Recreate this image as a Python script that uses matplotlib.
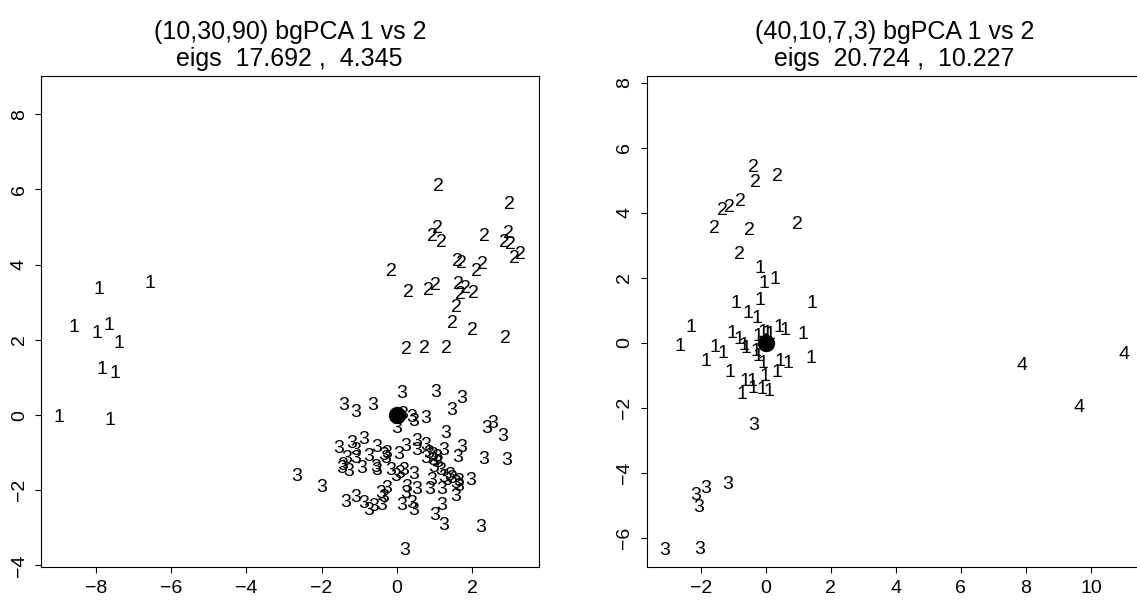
import numpy as np
import matplotlib.pyplot as plt
from matplotlib.ticker import MultipleLocator

plt.rcParams['font.family'] = ['Liberation Sans', 'DejaVu Sans']

# ---- left panel: (10,30,90) ----
titleA = "(10,30,90) bgPCA 1 vs 2\neigs  17.692 ,  4.345"
a1_x = [-7.93, -6.56, -8.58, -7.97, -7.66, -7.40, -7.84, -7.50, -8.97, -7.62]
a1_y = [3.39, 3.55, 2.39, 2.22, 2.44, 1.97, 1.26, 1.15, 0.00, -0.09]

a2_x = [1.10, 2.99, 1.07, 0.94, 1.20, 2.33, 2.97, 2.86, 3.02, 3.28,
        3.13, -0.13, 1.62, 1.73, 2.27, 2.13, 0.31, 0.85, 1.04, 1.64,
        1.84, 1.69, 2.03, 1.60, 1.47, 2.00, 2.90, 0.27, 0.73, 1.32]
a2_y = [6.14, 5.65, 5.02, 4.81, 4.63, 4.81, 4.89, 4.64, 4.59, 4.33,
        4.21, 3.88, 4.15, 4.08, 4.06, 3.86, 3.32, 3.37, 3.50, 3.53,
        3.41, 3.26, 3.28, 2.91, 2.48, 2.31, 2.08, 1.80, 1.82, 1.82]

a3_x = [0.14, 1.04, 1.73, 1.47, -1.41, -1.08, -0.63, 0.16, 0.40, 0.45,
        0.78, -0.01, 2.40, 2.56, 2.82, 1.31, -1.55, -1.19, -0.88, -1.10,
        -0.53, -0.26, -0.35, 0.05, 0.25, 0.54, 0.52, 0.76, 0.85, 0.96,
        1.07, 0.76, 1.26, 1.73, 1.63, 2.31, 2.93, -1.32, -1.43, -1.28,
        -1.46, -1.08, -0.75, -0.93, -0.57, -0.53, -0.17, -0.04, 0.07, 0.18,
        0.45, 0.98, 1.09, 1.16, 0.94, 1.24, 1.33, 1.47, 1.56, 1.66,
        1.64, 1.97, -1.99, -2.65, -0.44, -0.28, -0.35, -0.39, 0.27, 0.25,
        0.52, 0.87, 1.20, 1.58, -1.37, -1.08, -0.88, -0.75, -0.62, 0.14,
        0.40, 0.45, 1.02, 1.20, 1.24, 2.22, 0.20, 0.95, -0.30, 1.40]
a3_y = [0.62, 0.66, 0.49, 0.18, 0.31, 0.11, 0.31, 0.07, 0.00, -0.13,
        -0.03, -0.31, -0.31, -0.18, -0.51, -0.44, -0.84, -0.71, -0.60, -0.89,
        -0.81, -0.96, -1.02, -0.99, -0.78, -0.66, -0.89, -0.75, -0.97, -1.02,
        -1.08, -1.11, -0.89, -0.80, -1.08, -1.13, -1.15, -1.11, -1.28, -1.46,
        -1.37, -1.11, -1.05, -1.37, -1.33, -1.42, -1.42, -1.58, -1.51, -1.42,
        -1.52, -1.33, -1.22, -1.42, -1.68, -1.60, -1.68, -1.64, -1.77, -1.70,
        -1.84, -1.68, -1.86, -1.58, -2.04, -1.90, -2.13, -2.35, -1.86, -2.04,
        -1.93, -1.93, -1.93, -2.11, -2.26, -2.13, -2.30, -2.48, -2.39, -2.35,
        -2.30, -2.48, -2.61, -2.35, -2.88, -2.93, -3.55, -1.15, -1.10, -1.55]

# ---- right panel: (40,10,7,3) ----
titleB = "(40,10,7,3) bgPCA 1 vs 2\neigs  20.724 ,  10.227"
b1_x = [-0.17, 0.29, -0.05, -0.92, -0.17, 1.43, -0.56, -0.28, -2.30, -2.63,
        -1.04, -0.82, -0.67, -0.61, -0.10, 0.05, 0.13, 0.41, 0.58, 1.14,
        -0.23, -0.29, -0.23, -1.56, -1.33, -1.84, -0.07, 0.44, 0.68, 1.39,
        -1.10, 0.34, -0.02, -0.63, -0.43, -0.38, -0.12, 0.10, -0.74, 0.00]
b1_y = [2.33, 2.01, 1.87, 1.26, 1.36, 1.26, 0.95, 0.80, 0.54, -0.05,
        0.34, 0.17, -0.02, -0.12, 0.39, 0.34, 0.31, 0.54, 0.44, 0.32,
        0.24, -0.22, -0.35, -0.10, -0.28, -0.51, -0.58, -0.51, -0.58, -0.43,
        -0.86, -0.84, -0.99, -1.14, -1.12, -1.35, -1.37, -1.43, -1.53, 0.10]

b2_x = [-0.38, -0.33, 0.36, -0.77, -1.10, -1.33, -1.59, -0.51, 0.97, -0.82]
b2_y = [5.45, 4.99, 5.17, 4.40, 4.22, 4.12, 3.56, 3.51, 3.71, 2.76]

b3_x = [-0.36, -1.86, -1.18, -2.15, -2.07, -3.10, -2.02]
b3_y = [-2.47, -4.42, -4.29, -4.64, -5.01, -6.33, -6.31]

b4_x = [7.87, 11.02, 9.63]
b4_y = [-0.63, -0.31, -1.94]

panels = [
    (titleA, [("1", a1_x, a1_y), ("2", a2_x, a2_y), ("3", a3_x, a3_y)]),
    (titleB, [("1", b1_x, b1_y), ("2", b2_x, b2_y), ("3", b3_x, b3_y), ("4", b4_x, b4_y)]),
]

W, H = 1137, 601
# plot boxes in pixels: left, bottom edge (from top), width, top edge (from top)
boxes_px = [(41, 567, 497.5, 76), (646.5, 567, 496, 76)]


def limits(groups, wpx, hpx):
    # x: data range + 4% each side; y: starts 4% below ymin, same units/pixel as x
    xs = np.concatenate([np.asarray(g[1]) for g in groups])
    ys = np.concatenate([np.asarray(g[2]) for g in groups])
    w = xs.max() - xs.min()
    xl = (xs.min() - 0.04 * w, xs.max() + 0.04 * w)
    span = (xl[1] - xl[0]) * hpx / wpx
    y0 = ys.min() - 0.04 * w
    return xl, (y0, y0 + span)


fig = plt.figure(figsize=(W / 100, H / 100), dpi=100)

for (title, groups), (lpx, bpx, wpx, tpx) in zip(panels, boxes_px):
    hpx = bpx - tpx
    ax = fig.add_axes([lpx / W, (H - bpx) / H, wpx / W, hpx / H])
    xl, yl = limits(groups, wpx, hpx)
    for lab, xs, ys in groups:
        for x, y in zip(xs, ys):
            ax.text(x, y, lab, ha='center', va='center_baseline', fontsize=14)
    ax.plot([0], [0], 'o', color='black', markersize=11.5)
    ax.set_xlim(xl)
    ax.set_ylim(yl)
    ax.xaxis.set_major_locator(MultipleLocator(2))
    ax.yaxis.set_major_locator(MultipleLocator(2))
    ax.tick_params(direction='out', length=4, width=0.8, labelsize=14, pad=5.5)
    ax.tick_params(axis='y', labelrotation=90)
    for lbl in ax.get_yticklabels():
        lbl.set_va('center')
    for sp in ax.spines.values():
        sp.set_linewidth(0.8)
    ax.set_title(title, fontsize=18, linespacing=1.15, pad=7)

fig.savefig('out.png', dpi=100)
